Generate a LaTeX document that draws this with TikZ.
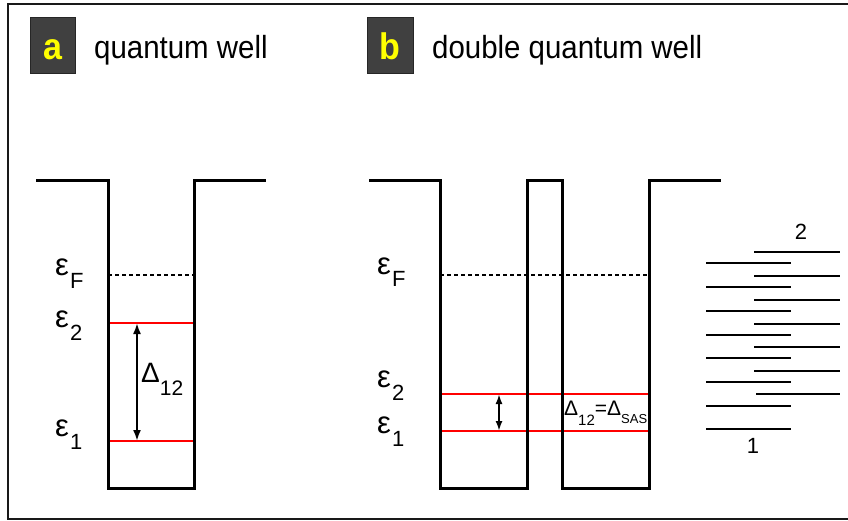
\documentclass[tikz,border=0pt]{standalone}
\usepackage{fontspec}
\setmainfont{Liberation Sans}
\usetikzlibrary{arrows.meta}
\definecolor{boxgray}{HTML}{404040}
\definecolor{lblyellow}{HTML}{FFFF00}
\definecolor{lvlred}{HTML}{FF0000}
\newcommand\myeps[1]{{\fontsize{31}{34}\selectfont ε}\kern1pt\raisebox{-13pt}{\fontsize{22}{24}\selectfont #1}}
\newcommand\hsq[1]{\scalebox{0.92}[1]{#1}}
\begin{document}
\begin{tikzpicture}[x=1pt,y=-1pt,
  well/.style={line width=3pt, line join=miter},
  redlvl/.style={lvlred, line width=2pt},
  fermi/.style={line width=1.6pt, dash pattern=on 4pt off 3pt},
  stackline/.style={line width=2.3pt},
  dblarrow/.style={line width=2pt, {Latex[length=11pt,width=8pt]}-{Latex[length=11pt,width=8pt]}},
  lblbox/.style={fill=boxgray, draw=black!85, line width=0.8pt},
  lbltext/.style={inner sep=0pt, text=lblyellow, font=\fontsize{37}{40}\selectfont\bfseries},
  titletext/.style={inner sep=0pt, font=\fontsize{32}{36}\selectfont},
  epstext/.style={inner sep=0pt, anchor=base west},
  numtext/.style={inner sep=0pt, anchor=base, font=\fontsize{22}{24}\selectfont}
]
\useasboundingbox (0,0) rectangle (848,521);
\fill[white] (0,0) rectangle (848,521);
% frame
\draw[line width=2.2pt, black!90] (8,4) rectangle (852,519);

% label boxes
\draw[lblbox] (30,17) rectangle (75,73);
\node[lbltext, anchor=base] (la) at (52.5,60) {\hsq{a}};
\node[titletext, anchor=base west] (ta) at (94,59) {\hsq{quantum well}};
\draw[lblbox] (367,17) rectangle (413,73);
\node[lbltext, anchor=base] (lb) at (390,60) {\hsq{b}};
\node[titletext, anchor=base west] (tb) at (432,59) {\hsq{double quantum well}};

% ---- panel a ----
\coordinate (a2l) at (108,323); \coordinate (a2r) at (194,323);
\coordinate (a1l) at (108,441); \coordinate (a1r) at (194,441);
\coordinate (aFl) at (108,275); \coordinate (aFr) at (194,275);
\draw[redlvl] (a2l) -- (a2r);
\draw[redlvl] (a1l) -- (a1r);
\draw[fermi] (aFl) -- (aFr);
\draw[well] (36,181) -- (108,181) -- (108,488) -- (194,488) -- (194,181) -- (266,181);
\coordinate (aA2) at (137,323); \coordinate (aA1) at (137,441);
\draw[dblarrow] (aA2) -- (aA1);
\node[epstext] (aeF) at (55,276) {\myeps{F}};
\node[epstext] (ae2) at (55,327) {\myeps{2}};
\node[epstext] (ae1) at (55,436) {\myeps{1}};
\node[epstext] (aD) at (141,382) {{\fontsize{28}{30}\selectfont Δ}\raisebox{-13pt}{\fontsize{21}{23}\selectfont 12}};

% ---- panel b ----
\coordinate (b2l) at (440,394); \coordinate (b2r) at (649,394);
\coordinate (b1l) at (440,431); \coordinate (b1r) at (649,431);
\coordinate (bFl) at (440,275); \coordinate (bFr) at (649,275);
\draw[redlvl] (b2l) -- (b2r);
\draw[redlvl] (b1l) -- (b1r);
\draw[fermi] (bFl) -- (bFr);
\draw[well] (369,181) -- (440,181) -- (440,488) -- (527,488) -- (527,181) -- (562,181) -- (562,488) -- (649,488) -- (649,181) -- (721,181);
\coordinate (bA2) at (499,394); \coordinate (bA1) at (499,431);
\draw[dblarrow, {Latex[length=10pt,width=7pt]}-{Latex[length=10pt,width=7pt]}] (bA2) -- (bA1);
\node[epstext] (beF) at (377,274) {\myeps{F}};
\node[epstext] (be2) at (377,387) {\myeps{2}};
\node[epstext] (be1) at (377,433) {\myeps{1}};
\node[epstext] (bD) at (564,415) {{\fontsize{21}{23}\selectfont Δ}\raisebox{-10pt}{\fontsize{15}{17}\selectfont 12}{\fontsize{21}{23}\selectfont =Δ}\raisebox{-8pt}{\fontsize{13}{15}\selectfont SAS}};

% ---- right level stack ----
\foreach \yy in {252,276,300,324,347,371} { \draw[stackline] (754,\yy) -- (840,\yy); }
\draw[stackline] (756,394) -- (840,394);
\foreach \yy in {263,287,311,335,358,382,406,429} { \draw[stackline] (706,\yy) -- (791,\yy); }
\node[numtext] (n2) at (801,240) {2};
\node[numtext] (n1) at (753,453) {1};
\end{tikzpicture}
\end{document}
